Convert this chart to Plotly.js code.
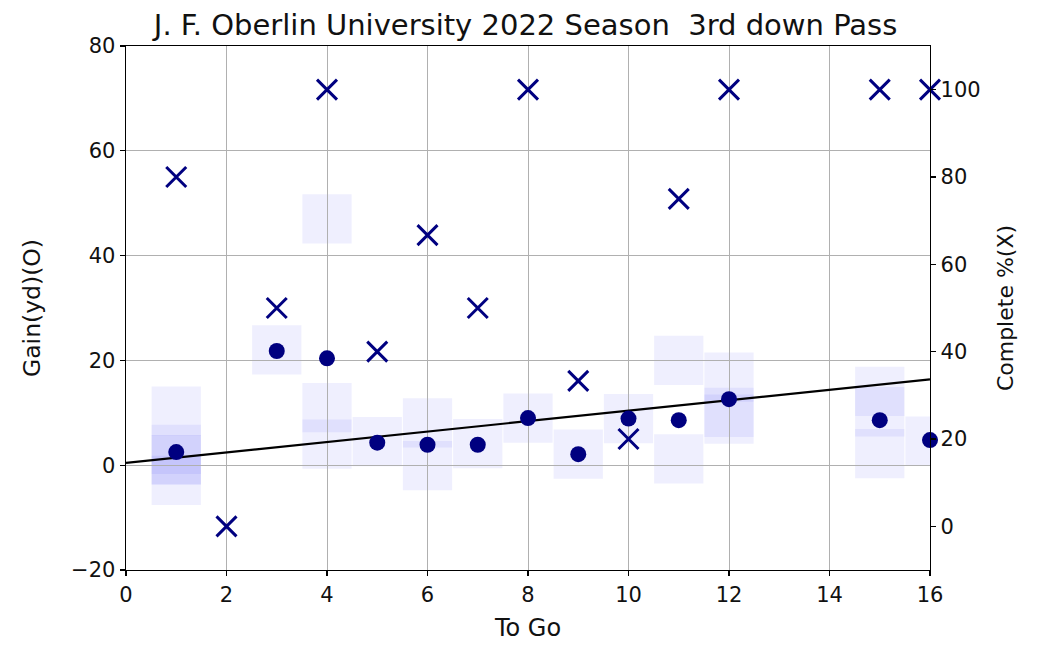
<!DOCTYPE html>
<html>
<head>
<meta charset="utf-8">
<script src="https://cdn.plot.ly/plotly-3.0.1.min.js"></script>
<style>html,body{margin:0;padding:0;background:#fff;}#chart{width:1038px;height:646px;}</style>
</head>
<body>
<div id="chart"></div>
<script>
// Average gain per "to go" distance (left axis, circles)
const toGo = [1, 3, 4, 5, 6, 7, 8, 9, 10, 11, 12, 15, 16];
const avgGain = [2.5, 21.8, 20.4, 4.3, 3.9, 3.9, 9.0, 2.1, 8.9, 8.6, 12.6, 8.6, 4.8];
// Completion percentage per "to go" distance (right axis, crosses)
const pctToGo = [1, 2, 3, 4, 5, 6, 7, 8, 9, 10, 11, 12, 15, 16];
const completePct = [80, 0, 50, 100, 40, 66.7, 50, 100, 33.3, 20, 75, 100, 100, 100];
// Individual plays (translucent boxes)
const playToGo = [1, 1, 1, 1, 1, 3, 4, 4, 4, 5, 6, 6, 7, 8, 9, 10, 11, 11, 12, 12, 12, 15, 15, 15, 16];
const playGain = [10.3, 3.0, 1.0, 1.0, -2.9, 22.0, 47.0, 11.0, 4.0, 4.5, 8.1, -0.1, 4.1, 9.0, 2.1, 8.9, 20.0, 1.2, 16.8, 10.1, 8.8, 14.1, 10.2, 2.2, 4.6];
// Trend line
const trendIntercept = 0.45;
const trendSlope = 0.995;
const trendX = [0, 16];

const titleText = 'J. F. Oberlin University 2022 Season  3rd down Pass';
const xTitle = 'To Go';
const yTitle = 'Gain(yd)(O)';
const y2Title = 'Complete %(X)';

const FONT = '"DejaVu Sans", sans-serif';
const NAVY = '#000080';
const BOX_HALF_W = 0.49;
const BOX_HALF_H = 4.7;

const shapes = playToGo.map((x, i) => ({
  type: 'rect', xref: 'x', yref: 'y', layer: 'below',
  x0: x - BOX_HALF_W, x1: x + BOX_HALF_W,
  y0: playGain[i] - BOX_HALF_H, y1: playGain[i] + BOX_HALF_H,
  fillcolor: 'rgba(40,40,235,0.075)', line: {width: 0}
}));

const traces = [
  {
    x: trendX, y: trendX.map(v => trendIntercept + trendSlope * v),
    mode: 'lines', line: {color: '#000', width: 2.2}, yaxis: 'y', hoverinfo: 'skip'
  },
  {
    x: toGo, y: avgGain, mode: 'markers', yaxis: 'y',
    marker: {symbol: 'circle', size: 16, color: NAVY}, cliponaxis: false
  },
  {
    x: pctToGo, y: completePct, mode: 'markers', yaxis: 'y2',
    marker: {symbol: 'x-thin-open', size: 20, color: NAVY, line: {color: NAVY, width: 3}}, cliponaxis: false
  }
];

const axisCommon = {
  showline: true, linecolor: '#000', linewidth: 1.4,
  ticks: 'outside', ticklen: 5, tickwidth: 1.2, tickcolor: '#000',
  tickfont: {family: FONT, size: 21, color: '#111'},
  zeroline: false
};

const layout = {
  width: 1038, height: 646,
  margin: {l: 126, r: 108, t: 46, b: 76},
  paper_bgcolor: '#fff', plot_bgcolor: '#fff',
  showlegend: false,
  title: {text: titleText, x: 0.497, xref: 'paper', xanchor: 'center', y: 0.962, yref: 'container', yanchor: 'middle',
          font: {family: FONT, size: 29, color: '#111'}},
  xaxis: Object.assign({}, axisCommon, {
    range: [0, 16], dtick: 2, tick0: 0, mirror: true,
    showgrid: true, gridcolor: '#b0b0b0', gridwidth: 1,
    title: {text: xTitle, font: {family: FONT, size: 24, color: '#111'}, standoff: 13}
  }),
  yaxis: Object.assign({}, axisCommon, {
    range: [-20, 80], dtick: 20, tick0: 0,
    showgrid: true, gridcolor: '#b0b0b0', gridwidth: 1,
    title: {text: yTitle, font: {family: FONT, size: 23.5, color: '#111'}, standoff: 24}
  }),
  yaxis2: Object.assign({}, axisCommon, {
    range: [-10, 110], dtick: 20, tick0: 0, overlaying: 'y', side: 'right',
    showgrid: false,
    title: {text: y2Title, font: {family: FONT, size: 22, color: '#111'}, standoff: 18}
  }),
  shapes: shapes
};

Plotly.newPlot('chart', traces, layout, {staticPlot: true});
</script>
</body>
</html>
